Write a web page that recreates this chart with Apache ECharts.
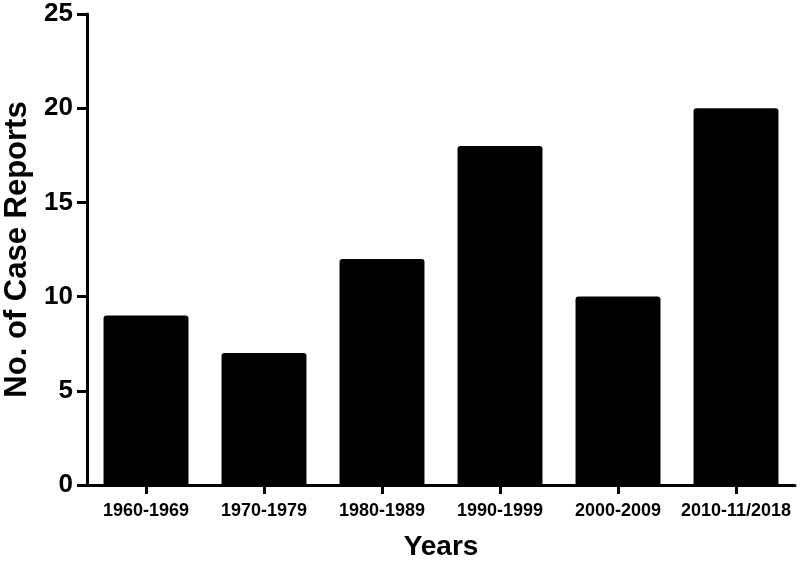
<!DOCTYPE html>
<html lang="en">
<head>
    <meta charset="UTF-8">
    <title>Case reports per decade</title>
    <script src="https://cdn.jsdelivr.net/npm/echarts@6/dist/echarts.min.js"></script>
    <style>
        html, body { margin: 0; padding: 0; background: #fff; }
        #chart { width: 800px; height: 561px; }
    </style>
</head>
<body>
<div id="chart"></div>
<script>
  var periods = ['1960-1969', '1970-1979', '1980-1989', '1990-1999', '2000-2009', '2010-11/2018'];
  var caseReports = [9, 7, 12, 18, 10, 20];

  var FONT = '"Liberation Sans", Arial, sans-serif';

  var myChart = echarts.init(document.getElementById('chart'));

  myChart.setOption({
    animation: false,
    grid: {
      left: 87,
      right: 5,
      top: 14,
      bottom: 76,
      outerBoundsMode: 'none'
    },
    xAxis: {
      type: 'category',
      data: periods,
      name: 'Years',
      nameLocation: 'middle',
      nameGap: 48,
      nameTextStyle: { fontFamily: FONT, fontWeight: 'bold', fontSize: 28, color: '#000' },
      axisLine: { lineStyle: { color: '#000', width: 3 } },
      axisTick: { show: true, alignWithLabel: true, interval: 0, length: 9, lineStyle: { color: '#000', width: 3 } },
      axisLabel: { interval: 0, fontFamily: FONT, fontWeight: 'bold', fontSize: 18, color: '#000', margin: 17 }
    },
    yAxis: {
      type: 'value',
      min: 0,
      max: 25,
      interval: 5,
      name: 'No. of Case Reports',
      nameLocation: 'middle',
      nameGap: 50,
      nameTextStyle: { fontFamily: FONT, fontWeight: 'bold', fontSize: 31, color: '#000' },
      splitLine: { show: false },
      axisLine: { show: true, lineStyle: { color: '#000', width: 3 } },
      axisTick: { show: true, inside: false, length: 10, lineStyle: { color: '#000', width: 3 } },
      axisLabel: { fontFamily: FONT, fontWeight: 'bold', fontSize: 26, color: '#000', margin: 14 }
    },
    series: [
      {
        type: 'bar',
        data: caseReports,
        barWidth: '72%',
        itemStyle: { color: '#000', borderRadius: [3, 3, 0, 0] }
      }
    ]
  });
</script>
</body>
</html>
